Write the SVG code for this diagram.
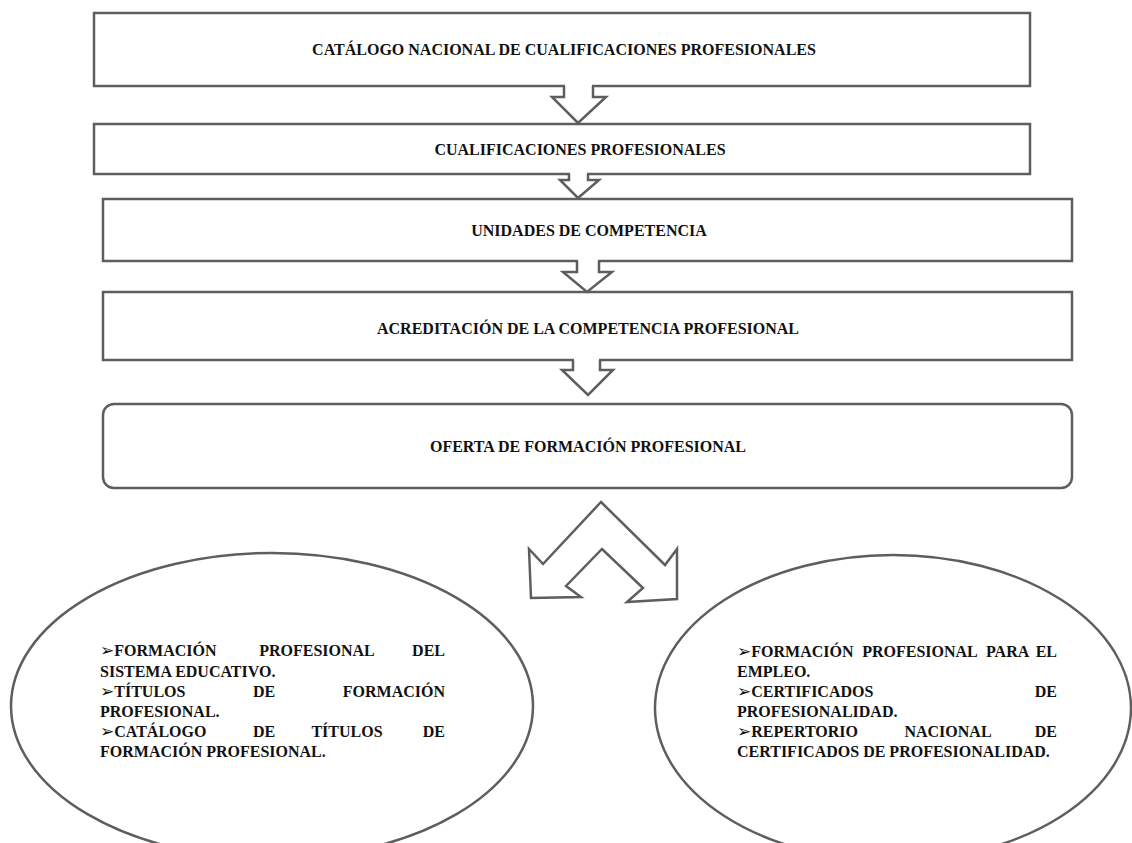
<svg xmlns="http://www.w3.org/2000/svg" width="1132" height="843" viewBox="0 0 1132 843">
<style>
.box{fill:#fff;stroke:#5e5e5e;stroke-width:2.5}
.arw{fill:#fff;stroke:#5e5e5e;stroke-width:2.5;stroke-linejoin:miter}
.cover{fill:#fff;stroke:none}
.t{font-family:"Liberation Serif","DejaVu Serif",serif;font-weight:bold;font-size:16px;fill:#111}
.c{text-anchor:middle}
.e{text-anchor:end}
.b{font-family:"DejaVu Sans",sans-serif;font-size:17px;font-weight:normal}
</style>
<rect width="1132" height="843" fill="#fff"/>
<g id="n1"><rect class="box" x="94" y="13" width="936" height="73"/><text class="t c" x="564" y="55">CATÁLOGO NACIONAL DE CUALIFICACIONES PROFESIONALES</text></g>
<g id="n2"><rect class="box" x="94" y="124" width="936" height="50"/><text class="t c" x="580" y="155">CUALIFICACIONES PROFESIONALES</text></g>
<g id="n3"><rect class="box" x="103" y="199" width="969" height="62"/><text class="t c" x="589" y="236">UNIDADES DE COMPETENCIA</text></g>
<g id="n4"><rect class="box" x="103" y="292" width="969" height="68"/><text class="t c" x="588" y="334">ACREDITACIÓN DE LA COMPETENCIA PROFESIONAL</text></g>
<g id="n5"><rect class="box" x="103" y="404" width="969" height="84" rx="11"/><text class="t c" x="588" y="452">OFERTA DE FORMACIÓN PROFESIONAL</text></g>
<g id="connectors">
<polygon class="cover" points="565,84 565,97 552,97 578,123 606,97 592,97 592,84"/>
<polyline class="arw" points="564,86 564,97 552,97 578,123 606,97 593,97 593,86"/>
<polygon class="cover" points="570,172 570,180 560,180 578,198 599,180 587,180 587,172"/>
<polyline class="arw" points="569,174 569,180 560,180 578,198 599,180 588,180 588,174"/>
<polygon class="cover" points="578,259 578,272 563,272 587,292 612,272 598,272 598,259"/>
<polyline class="arw" points="577,261 577,272 563,272 587,292 612,272 599,272 599,261"/>
<polygon class="cover" points="574,358 574,370 562,370 588,395 613,370 599,370 599,358"/>
<polyline class="arw" points="573,360 573,370 562,370 588,395 613,370 600,370 600,360"/>
<polygon class="arw" points="601,502 665,565 677,549 677,599 627,602 643,588 602,549 566,586 581,597 531,598 529,549 543,564"/>
</g>
<g id="n6">
<ellipse class="box" cx="272" cy="706" rx="261" ry="153"/>
<text class="t" x="100" y="656"><tspan class="b">➢</tspan>FORMACIÓN</text>
<text class="t c" x="317" y="656">PROFESIONAL</text>
<text class="t e" x="445" y="656">DEL</text>
<text class="t" x="100" y="677">SISTEMA EDUCATIVO.</text>
<text class="t" x="100" y="697"><tspan class="b">➢</tspan>TÍTULOS</text>
<text class="t c" x="264" y="697">DE</text>
<text class="t e" x="445" y="697">FORMACIÓN</text>
<text class="t" x="100" y="717">PROFESIONAL.</text>
<text class="t" x="100" y="737"><tspan class="b">➢</tspan>CATÁLOGO</text>
<text class="t c" x="264" y="737">DE</text>
<text class="t c" x="347" y="737">TÍTULOS</text>
<text class="t e" x="445" y="737">DE</text>
<text class="t" x="100" y="757">FORMACIÓN PROFESIONAL.</text>
</g>
<g id="n7">
<ellipse class="box" cx="893" cy="708" rx="238" ry="153"/>
<text class="t" x="737" y="657"><tspan class="b">➢</tspan>FORMACIÓN</text>
<text class="t c" x="920" y="657">PROFESIONAL</text>
<text class="t" x="986" y="657">PARA</text>
<text class="t e" x="1057" y="657">EL</text>
<text class="t" x="737" y="677">EMPLEO.</text>
<text class="t" x="737" y="697"><tspan class="b">➢</tspan>CERTIFICADOS</text>
<text class="t e" x="1057" y="697">DE</text>
<text class="t" x="737" y="717">PROFESIONALIDAD.</text>
<text class="t" x="737" y="737"><tspan class="b">➢</tspan>REPERTORIO</text>
<text class="t c" x="948" y="737">NACIONAL</text>
<text class="t e" x="1057" y="737">DE</text>
<text class="t" x="737" y="757">CERTIFICADOS DE PROFESIONALIDAD.</text>
</g>
</svg>
